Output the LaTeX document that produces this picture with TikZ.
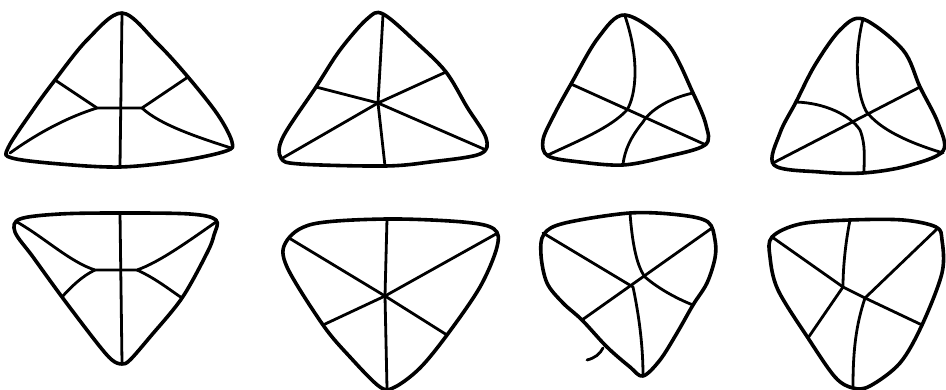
\documentclass[tikz,border=0pt]{standalone}
\begin{document}
\begin{tikzpicture}[x=1pt,y=-1pt,
  outline/.style={line width=3.6pt,line cap=round,line join=round},
  inner/.style={line width=2.8pt,line cap=round,line join=round}]
\useasboundingbox (0,0) rectangle (946,390);
% ---------- Shape 1 ----------
\draw[outline] plot[smooth cycle,tension=0.55] coordinates {(122,13) (157,43) (188,77) (218,115) (232,142) (226,151) (180,161) (120,167) (60,164) (12,158) (8,148) (33,110) (55,80) (87,40)};
\draw[inner] (122,14) -- (120,166);
\draw[inner] (55,80) -- (97,108) -- (142,108) -- (188,77);
\draw[inner] (97,108) .. controls (65,118) and (35,135) .. (10,153);
\draw[inner] (142,108) .. controls (160,125) and (200,138) .. (231,148);
% ---------- Shape 2 ----------
\draw[outline] plot[smooth cycle,tension=0.55] coordinates {(383,14) (417,43) (446,72) (467,107) (486,138) (480,154) (430,162) (385,166) (300,164) (281,158) (283,137) (316,87) (340,50) (367,19)};
\draw[inner] (383,15) -- (378,103) -- (385,166);
\draw[inner] (281,159) -- (378,103) -- (446,72);
\draw[inner] (316,87) -- (378,103) -- (486,150);
% ---------- Shape 3 ----------
\draw[outline] plot[smooth cycle,tension=0.55] coordinates {(625,15) (667,43) (693,93) (706,125) (705,145) (665,157) (623,165) (580,162) (548,156) (543,140) (554,115) (571,84) (598,38)};
\draw[inner] (571,84) -- (706,145);
\draw[inner] (625,16) .. controls (640,60) and (636,95) .. (627,110) .. controls (610,128) and (580,140) .. (548,155);
\draw[inner] (693,93) .. controls (670,98) and (650,110) .. (643,122) .. controls (630,138) and (625,150) .. (623,164);
% ---------- Shape 4 ----------
\draw[outline] plot[smooth cycle,tension=0.55] coordinates {(863,19) (903,50) (920,87) (938,123) (943,151) (907,166) (863,173) (820,172) (774,165) (780,133) (796,102) (815,65) (840,30)};
\draw[inner] (773,163) -- (920,87);
\draw[inner] (863,19) .. controls (855,50) and (855,90) .. (866,111) .. controls (880,130) and (910,143) .. (943,153);
\draw[inner] (796,102) .. controls (825,103) and (850,115) .. (860,130) .. controls (866,145) and (864,160) .. (864,172);
% ---------- Shape 5 ----------
\draw[outline] plot[smooth cycle,tension=0.55] coordinates {(120,213) (190,214) (216,220) (214,235) (207,253) (182,298) (150,337) (130,360) (122,364) (112,360) (97,343) (62,297) (33,257) (15,232) (20,219) (60,214)};
\draw[inner] (120,213) -- (122,363);
\draw[inner] (17,222) .. controls (45,238) and (70,262) .. (95,270) -- (137,270) .. controls (160,262) and (190,240) .. (216,222);
\draw[inner] (95,270) .. controls (82,276) and (70,288) .. (62,297);
\draw[inner] (137,270) .. controls (155,278) and (170,290) .. (182,298);
% ---------- Shape 6 ----------
\draw[outline] plot[smooth cycle,tension=0.55] coordinates {(387,219) (463,222) (494,229) (497,247) (480,287) (447,335) (420,368) (395,387) (380,387) (350,357) (323,325) (287,267) (286,242) (313,224)};
\draw[inner] (387,219) -- (385,296) -- (387,388);
\draw[inner] (289,238) -- (385,296) -- (447,335);
\draw[inner] (496,234) -- (385,296) -- (323,325);
% ---------- Shape 7 ----------
\draw[outline] plot[smooth cycle,tension=0.55] coordinates {(630,213) (680,215) (708,222) (715,240) (715,258) (707,283) (693,305) (677,333) (660,360) (643,376) (630,367) (607,347) (582,320) (563,303) (547,283) (541,255) (544,234) (565,223)};
\draw[inner] (543,233) -- (633,287) .. controls (640,320) and (643,350) .. (643,375);
\draw[inner] (582,320) -- (712,228);
\draw[inner] (630,213) .. controls (632,240) and (636,265) .. (645,277) .. controls (660,290) and (680,300) .. (693,305);
\draw[inner] (587,360) .. controls (595,358) and (600,354) .. (603,348);
% ---------- Shape 8 ----------
\draw[outline] plot[smooth cycle,tension=0.55] coordinates {(850,220) (903,220) (936,227) (942,240) (942,273) (922,325) (900,363) (870,386) (853,388) (835,377) (808,338) (778,290) (770,257) (772,237) (800,224)};
\draw[inner] (772,237) -- (843,287) -- (865,298) -- (922,325);
\draw[inner] (850,220) .. controls (845,245) and (843,270) .. (843,287) -- (808,338);
\draw[inner] (865,298) -- (938,228);
\draw[inner] (865,298) .. controls (856,325) and (853,350) .. (853,387);
\end{tikzpicture}
\end{document}
